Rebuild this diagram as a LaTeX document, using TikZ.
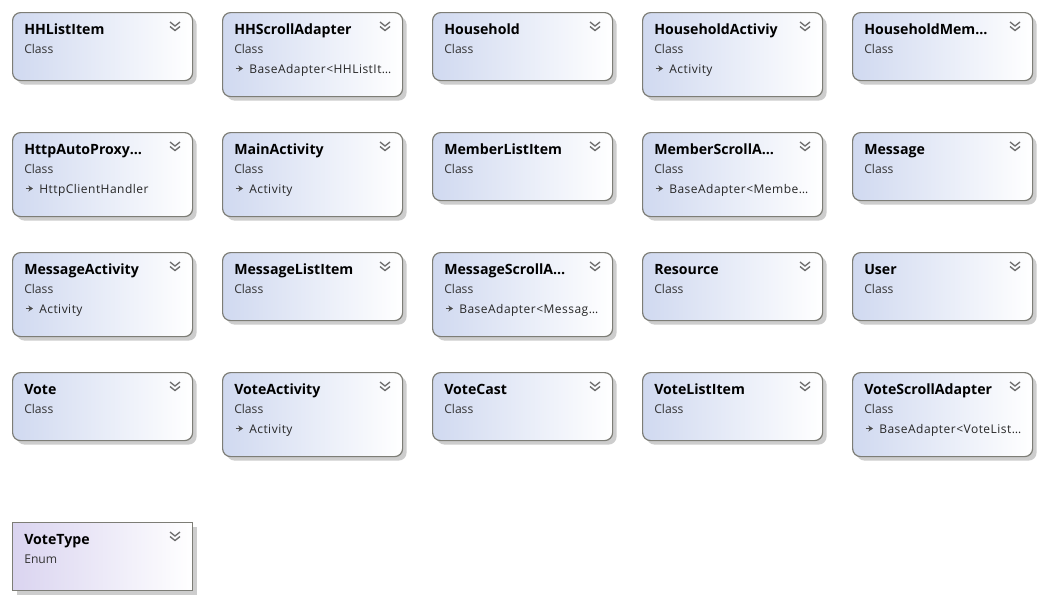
\documentclass[tikz,border=0pt]{standalone}
\usepackage{fontspec}
\setmainfont{Open Sans}
\newfontfamily\spacedfont[LetterSpace=4]{Open Sans}
\usetikzlibrary{shadows,arrows.meta}
\definecolor{clsleft}{RGB}{208,217,240}
\definecolor{enumleft}{RGB}{218,212,240}
\definecolor{boxborder}{RGB}{125,125,118}
\definecolor{shadowc}{RGB}{205,205,205}
\definecolor{chev}{RGB}{110,110,110}
\tikzset{
  x=0.75pt, y=-0.75pt,
  boxbase/.style={draw=boxborder, line width=0.9pt, anchor=north west, inner sep=0pt,
    minimum width=135pt, right color=white},
  clsbox/.style={boxbase, rounded corners=6pt, left color=clsleft,
    general shadow={shadow xshift=3pt, shadow yshift=-3pt, fill=shadowc, rounded corners=6pt}},
  enumbox/.style={boxbase, left color=enumleft,
    general shadow={shadow xshift=3pt, shadow yshift=-3pt, fill=shadowc}},
  titletext/.style={anchor=base west, inner sep=0pt, font=\bfseries\fontsize{10.6}{12}\selectfont},
  kindtext/.style={anchor=base west, inner sep=0pt, text=black!80, font=\fontsize{9.1}{10}\selectfont},
  basetext/.style={anchor=base west, inner sep=0pt, text=black!85, font=\spacedfont\fontsize{9}{10}\selectfont},
  chevline/.style={draw=chev, line width=1pt},
  baseicon/.style={draw=black!70, line width=1pt, -{Stealth[length=3.5pt,width=4.5pt]}}
}
\newcommand\chevron{%
  \draw[chevline] (158,10) -- (163,14) -- (168,10);
  \draw[chevline] (158,14.5) -- (163,18.5) -- (168,14.5);}
\newcommand\clsA[4]{%
  \begin{scope}[shift={(#2,#3)}]
    \node[clsbox, minimum height=51pt] (#1) at (0,0) {};
    \node[titletext] (#1-t) at (12,22) {#4};
    \node[kindtext] (#1-k) at (12,41.5) {Class};
    \chevron
  \end{scope}}
\newcommand\clsB[5]{%
  \begin{scope}[shift={(#2,#3)}]
    \node[clsbox, minimum height=63pt] (#1) at (0,0) {};
    \node[titletext] (#1-t) at (12,22) {#4};
    \node[kindtext] (#1-k) at (12,41.5) {Class};
    \coordinate (#1-a1) at (13.5,56.5);
    \coordinate (#1-a2) at (21,56.5);
    \draw[baseicon] (#1-a1) -- (#1-a2);
    \node[basetext] (#1-b) at (27,61.5) {#5};
    \chevron
  \end{scope}}
\begin{document}
\begin{tikzpicture}
\useasboundingbox (0,0) rectangle (1044,601);
% row 1
\clsA{hhlistitem}{12}{12}{HHListItem}
\clsB{hhscroll}{222}{12}{HHScrollAdapter}{BaseAdapter<HHListIt…}
\clsA{household}{432}{12}{Household}
\clsB{hhact}{642}{12}{HouseholdActiviy}{Activity}
\clsA{hhmem}{852}{12}{HouseholdMem…}
% row 2
\clsB{httpproxy}{12}{132}{HttpAutoProxy…}{HttpClientHandler}
\clsB{mainact}{222}{132}{MainActivity}{Activity}
\clsA{memlist}{432}{132}{MemberListItem}
\clsB{memscroll}{642}{132}{MemberScrollA…}{BaseAdapter<Membe…}
\clsA{message}{852}{132}{Message}
% row 3
\clsB{msgact}{12}{252}{MessageActivity}{Activity}
\clsA{msglist}{222}{252}{MessageListItem}
\clsB{msgscroll}{432}{252}{MessageScrollA…}{BaseAdapter<Messag…}
\clsA{resource}{642}{252}{Resource}
\clsA{user}{852}{252}{User}
% row 4
\clsA{vote}{12}{372}{Vote}
\clsB{voteact}{222}{372}{VoteActivity}{Activity}
\clsA{votecast}{432}{372}{VoteCast}
\clsA{votelist}{642}{372}{VoteListItem}
\clsB{votescroll}{852}{372}{VoteScrollAdapter}{BaseAdapter<VoteList…}
% row 5 (enum)
\begin{scope}[shift={(12,522)}]
  \node[enumbox, minimum height=51pt] (votetype) at (0,0) {};
  \node[titletext] (votetype-t) at (12,22) {VoteType};
  \node[kindtext] (votetype-k) at (12,41.5) {Enum};
  \chevron
\end{scope}
\end{tikzpicture}
\end{document}
